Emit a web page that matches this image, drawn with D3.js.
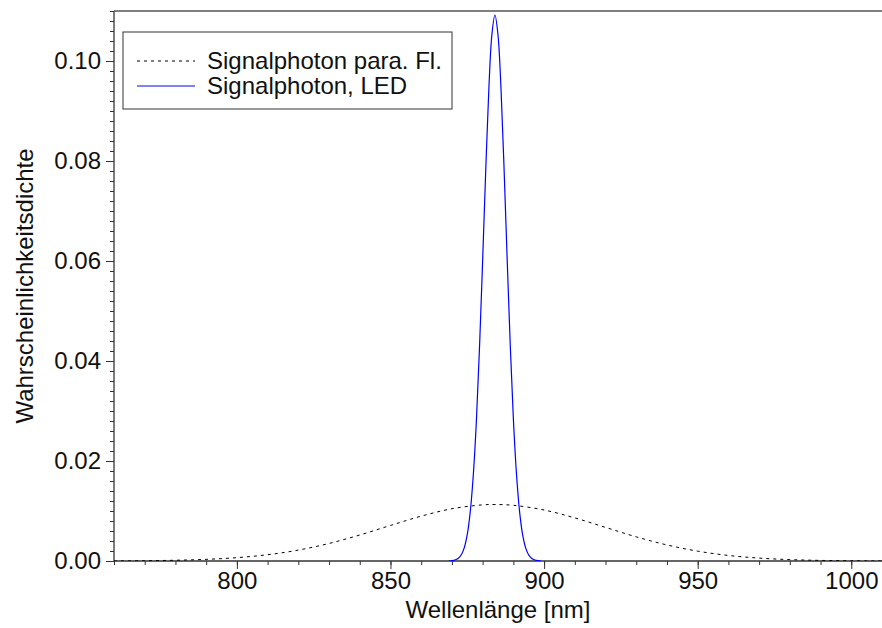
<!DOCTYPE html>
<html>
<head>
<meta charset="utf-8">
<script src="https://cdn.jsdelivr.net/npm/d3@7"></script>
<style>
  body { margin: 0; background: #fff; }
  svg text { font-family: "Liberation Sans", Arial, sans-serif; fill: #111; }
</style>
</head>
<body>
<div id="chart"></div>
<script>
// wavelength samples (nm) and density values
var paraX = [760, 770, 780, 790, 800, 810, 820, 830, 840, 850, 860, 870, 880, 884,
             890, 900, 910, 920, 930, 940, 950, 960, 970, 980, 990, 1000, 1010];
var paraY = [0.00002, 0.00006, 0.00015, 0.00033, 0.00067, 0.00126, 0.00218, 0.00351,
             0.00520, 0.00711, 0.00897, 0.01045, 0.01123, 0.01130, 0.01114, 0.01020,
             0.00862, 0.00672, 0.00483, 0.00321, 0.00197, 0.00111, 0.00058, 0.00028,
             0.00012, 0.00005, 0.00002];

var ledX = [869, 870, 871, 872, 873, 874, 875, 876, 877, 878, 879, 880, 881, 882, 883,
            884, 885, 886, 887, 888, 889, 890, 891, 892, 893, 894, 895, 896, 897, 898, 899];
var ledY = [0.00002, 0.00007, 0.00020, 0.00051, 0.00119, 0.00262, 0.00532, 0.01003,
            0.01755, 0.0285, 0.0430, 0.0601, 0.0780, 0.0941, 0.1052, 0.1092, 0.1052,
            0.0941, 0.0780, 0.0601, 0.0430, 0.0285, 0.01755, 0.01003, 0.00532, 0.00262,
            0.00119, 0.00051, 0.00020, 0.00007, 0.00002];

var xTicks = [800, 850, 900, 950, 1000];
var yTicks = [0, 0.02, 0.04, 0.06, 0.08, 0.10];
var legendLabels = ["Signalphoton para. Fl.", "Signalphoton, LED"];

var width = 882, height = 628;
var plotLeft = 114, plotRight = 882, plotTop = 11, plotBottom = 561;
var fontSize = 24;

var svg = d3.select("#chart").append("svg")
    .attr("width", width)
    .attr("height", height);

var x = d3.scaleLinear().domain([760, 1010]).range([plotLeft, plotRight]);
var y = d3.scaleLinear().domain([0, 0.11]).range([plotBottom, plotTop]);

svg.append("clipPath").attr("id", "clip")
  .append("rect")
    .attr("x", plotLeft).attr("y", plotTop)
    .attr("width", plotRight - plotLeft).attr("height", plotBottom - plotTop);

// minor ticks first, then major ticks with labels
var xMinor = d3.range(760, 1011, 10);
var yMinor = d3.range(0, 56, 1).map(function (d) { return d * 0.002; });

svg.append("g")
    .attr("transform", "translate(0," + plotBottom + ")")
    .call(d3.axisBottom(x).tickValues(xMinor).tickSize(4).tickFormat(""))
    .call(function (g) { g.select(".domain").remove(); });

svg.append("g")
    .attr("transform", "translate(" + plotLeft + ",0)")
    .call(d3.axisLeft(y).tickValues(yMinor).tickSize(4).tickFormat(""))
    .call(function (g) { g.select(".domain").remove(); });

var gx = svg.append("g")
    .attr("transform", "translate(0," + plotBottom + ")")
    .call(d3.axisBottom(x).tickValues(xTicks).tickSize(8).tickPadding(3).tickFormat(d3.format("d")));
gx.select(".domain").remove();
gx.selectAll("text").attr("font-size", fontSize).attr("font-family", null);

var gy = svg.append("g")
    .attr("transform", "translate(" + plotLeft + ",0)")
    .call(d3.axisLeft(y).tickValues(yTicks).tickSize(8).tickPadding(5).tickFormat(d3.format(".2f")));
gy.select(".domain").remove();
gy.selectAll("text").attr("font-size", fontSize).attr("font-family", null);

svg.selectAll(".tick line").attr("stroke", "#333").attr("stroke-width", 1);

// frame: left, bottom and top lines
svg.append("line")
    .attr("x1", plotLeft).attr("x2", plotLeft).attr("y1", plotTop).attr("y2", plotBottom)
    .attr("stroke", "#333").attr("stroke-width", 1.3);
svg.append("line")
    .attr("x1", plotLeft).attr("x2", plotRight).attr("y1", plotBottom).attr("y2", plotBottom)
    .attr("stroke", "#333").attr("stroke-width", 1.3);
svg.append("line")
    .attr("x1", plotLeft).attr("x2", plotRight).attr("y1", plotTop).attr("y2", plotTop)
    .attr("stroke", "#555").attr("stroke-width", 1.5);

var line = d3.line()
    .x(function (d) { return x(d[0]); })
    .y(function (d) { return y(d[1]); })
    .curve(d3.curveCatmullRom);

var plot = svg.append("g").attr("clip-path", "url(#clip)");

plot.append("path")
    .datum(d3.zip(paraX, paraY))
    .attr("d", line)
    .attr("fill", "none")
    .attr("stroke", "#000")
    .attr("stroke-width", 1)
    .attr("stroke-dasharray", "3,4");

plot.append("path")
    .datum(d3.zip(ledX, ledY))
    .attr("d", line)
    .attr("fill", "none")
    .attr("stroke", "#0000ff")
    .attr("stroke-width", 1.2);

// axis titles
svg.append("text")
    .attr("x", (plotLeft + plotRight) / 2)
    .attr("y", 618)
    .attr("text-anchor", "middle")
    .attr("font-size", fontSize)
    .text("Wellenlänge [nm]");

svg.append("text")
    .attr("transform", "translate(33," + (plotTop + plotBottom) / 2 + ") rotate(-90)")
    .attr("text-anchor", "middle")
    .attr("font-size", fontSize)
    .text("Wahrscheinlichkeitsdichte");

// legend
var legend = svg.append("g");
legend.append("rect")
    .attr("x", 123).attr("y", 32)
    .attr("width", 329).attr("height", 77)
    .attr("fill", "#fff")
    .attr("stroke", "#333")
    .attr("stroke-width", 1);

var styles = [
    { stroke: "#000", dash: "3,4", width: 1 },
    { stroke: "#0000ff", dash: null, width: 1.2 }
];

legend.selectAll(".item")
    .data(legendLabels)
    .enter()
    .append("g")
    .attr("transform", function (d, i) { return "translate(0," + (61 + i * 25) + ")"; })
    .each(function (d, i) {
        var g = d3.select(this);
        g.append("line")
            .attr("x1", 137).attr("x2", 195)
            .attr("stroke", styles[i].stroke)
            .attr("stroke-width", styles[i].width)
            .attr("stroke-dasharray", styles[i].dash);
        g.append("text")
            .attr("x", 207)
            .attr("dy", "0.35em")
            .attr("font-size", fontSize)
            .text(d);
    });
</script>
</body>
</html>
